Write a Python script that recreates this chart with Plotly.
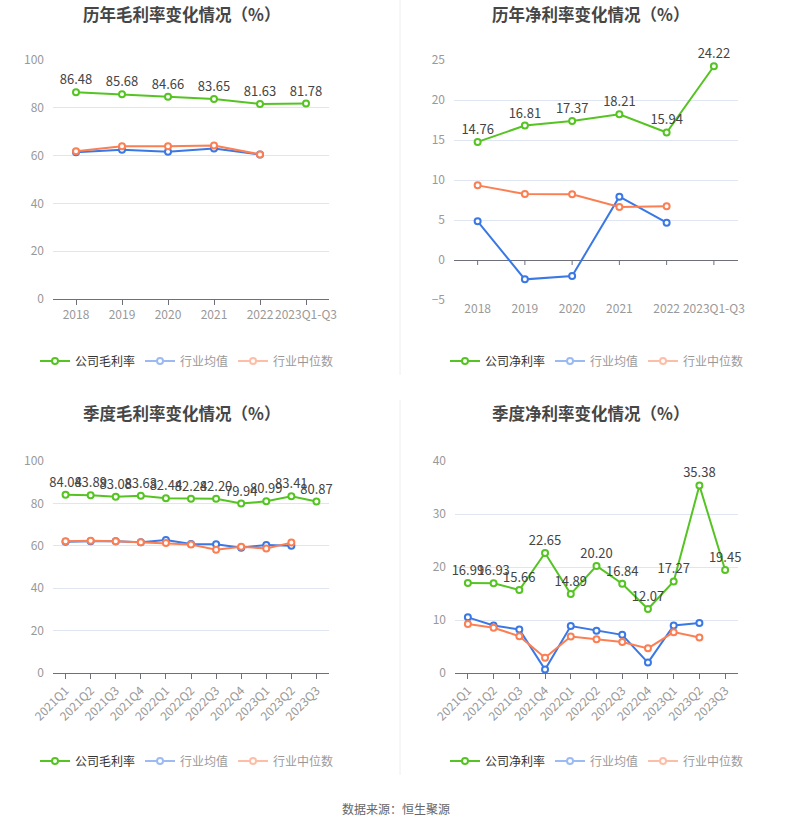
import plotly.graph_objects as go

W, H = 793, 829

years = ['2018', '2019', '2020', '2021', '2022', '2023Q1-Q3']
quarters = ['2021Q1', '2021Q2', '2021Q3', '2021Q4', '2022Q1', '2022Q2',
            '2022Q3', '2022Q4', '2023Q1', '2023Q2', '2023Q3']

gm_company = [86.48, 85.68, 84.66, 83.65, 81.63, 81.78]
gm_ind_mean = [61.4, 62.5, 61.6, 63.0, 60.5]
gm_ind_median = [61.8, 63.9, 63.9, 64.2, 60.5]

nm_company = [14.76, 16.81, 17.37, 18.21, 15.94, 24.22]
nm_ind_mean = [4.83, -2.42, -2.0, 7.92, 4.67]
nm_ind_median = [9.33, 8.25, 8.21, 6.63, 6.71]

qgm_company = [84.04, 83.89, 83.08, 83.63, 82.44, 82.24, 82.20, 79.94, 80.99, 83.41, 80.87]
qgm_ind_mean = [61.9, 62.2, 62.1, 61.7, 62.7, 60.8, 60.7, 59.1, 60.4, 60.0]
qgm_ind_median = [62.1, 62.4, 62.1, 61.7, 61.3, 60.6, 58.1, 59.6, 58.7, 61.5]

qnm_company = [16.99, 16.93, 15.66, 22.65, 14.89, 20.20, 16.84, 12.07, 17.27, 35.38, 19.45]
qnm_ind_mean = [10.5, 8.98, 8.2, 0.64, 8.85, 7.96, 7.2, 1.97, 8.98, 9.43]
qnm_ind_median = [9.24, 8.54, 6.94, 2.87, 6.88, 6.37, 5.86, 4.65, 7.71, 6.69]

titles = ['历年毛利率变化情况（%）', '历年净利率变化情况（%）',
          '季度毛利率变化情况（%）', '季度净利率变化情况（%）']
company_names = ['公司毛利率', '公司净利率', '公司毛利率', '公司净利率']
mean_name = '行业均值'
median_name = '行业中位数'
source_text = '数据来源：恒生聚源'

GREEN = '#55c423'
BLUE = '#3a78e6'
ORANGE = '#fb7f52'
FONT = 'Noto Sans CJK SC'

fig = go.Figure()

panels = [
    dict(x=years, c=gm_company, m=gm_ind_mean, d=gm_ind_median, xa='x', ya='y', lg='legend',
         xdom=(53, 329), ydom=(60, 299), yr=(0, 100), dt=20, ang=0),
    dict(x=years, c=nm_company, m=nm_ind_mean, d=nm_ind_median, xa='x2', ya='y2', lg='legend2',
         xdom=(454, 737.5), ydom=(60, 300), yr=(-5, 25), dt=5, ang=0),
    dict(x=quarters, c=qgm_company, m=qgm_ind_mean, d=qgm_ind_median, xa='x3', ya='y3', lg='legend3',
         xdom=(53, 329), ydom=(461, 673), yr=(0, 100), dt=20, ang=-45),
    dict(x=quarters, c=qnm_company, m=qnm_ind_mean, d=qnm_ind_median, xa='x4', ya='y4', lg='legend4',
         xdom=(455, 738), ydom=(461, 673), yr=(0, 40), dt=10, ang=-45),
]

def mk(color):
    return dict(symbol='circle', size=6, color='white', line=dict(color=color, width=2))

for i, p in enumerate(panels):
    xs = p['x']
    n_ind = len(p['m'])
    fig.add_trace(go.Scatter(x=xs[:n_ind], y=p['m'], mode='lines+markers', xaxis=p['xa'], yaxis=p['ya'],
                             line=dict(color=BLUE, width=2), marker=mk(BLUE), showlegend=False,
                             name=mean_name, cliponaxis=False))
    fig.add_trace(go.Scatter(x=xs[:n_ind], y=p['d'], mode='lines+markers', xaxis=p['xa'], yaxis=p['ya'],
                             line=dict(color=ORANGE, width=2), marker=mk(ORANGE), showlegend=False,
                             name=median_name, cliponaxis=False))
    fig.add_trace(go.Scatter(x=xs, y=p['c'], mode='lines+markers+text', xaxis=p['xa'], yaxis=p['ya'],
                             line=dict(color=GREEN, width=2), marker=mk(GREEN),
                             text=[f'{v:.2f}' for v in p['c']], textposition='top center',
                             textfont=dict(size=13, color='#444', family=FONT),
                             name=company_names[i], legend=p['lg'], cliponaxis=False))
    fig.add_trace(go.Scatter(x=xs[:n_ind], y=p['m'], mode='lines+markers', xaxis=p['xa'], yaxis=p['ya'],
                             line=dict(color=BLUE, width=2), marker=mk(BLUE), visible='legendonly',
                             name=mean_name, legend=p['lg']))
    fig.add_trace(go.Scatter(x=xs[:n_ind], y=p['d'], mode='lines+markers', xaxis=p['xa'], yaxis=p['ya'],
                             line=dict(color=ORANGE, width=2), marker=mk(ORANGE), visible='legendonly',
                             name=median_name, legend=p['lg']))

    sfx = '' if i == 0 else str(i + 1)
    x0, x1 = p['xdom']
    yt, yb = p['ydom']
    show_bottom_line = p['yr'][0] == 0
    fig.layout['xaxis' + sfx] = dict(
        domain=[x0 / W, x1 / W], anchor='y' + sfx, type='category',
        categoryorder='array', categoryarray=xs, range=[-0.5, len(xs) - 0.5],
        showgrid=False, zeroline=False, automargin=False,
        showline=show_bottom_line, linecolor='#6e7079', linewidth=1,
        ticks='outside' if show_bottom_line else '', ticklen=5, tickcolor='#6e7079',
        tickangle=p['ang'], tickfont=dict(size=12, color='#999', family=FONT), fixedrange=True)
    fig.layout['yaxis' + sfx] = dict(
        domain=[1 - yb / H, 1 - yt / H], anchor='x' + sfx, range=list(p['yr']), dtick=p['dt'],
        showgrid=True, gridcolor='#e0e6f1', gridwidth=1, automargin=False,
        zeroline=not show_bottom_line, zerolinecolor='#6e7079', zerolinewidth=1,
        showline=False, ticks='', ticklabelstandoff=8,
        tickfont=dict(size=12, color='#999', family=FONT), fixedrange=True)
    if not show_bottom_line:
        for k in range(len(xs)):
            fig.add_shape(type='line', xref=p['xa'], yref=p['ya'], x0=k, x1=k, y0=0,
                          y1=-5 / ((yb - yt) / (p['yr'][1] - p['yr'][0])),
                          line=dict(color='#6e7079', width=1))

leg_common = dict(orientation='h', xanchor='center', yanchor='middle',
                  font=dict(size=12, color='#333', family=FONT), itemwidth=30,
                  bgcolor='rgba(0,0,0,0)', itemclick=False, itemdoubleclick=False,
                  tracegroupgap=0)
fig.update_layout(
    legend=dict(x=187 / W, y=1 - 361 / H, **leg_common),
    legend2=dict(x=597 / W, y=1 - 361 / H, **leg_common),
    legend3=dict(x=187 / W, y=1 - 761 / H, **leg_common),
    legend4=dict(x=597 / W, y=1 - 761 / H, **leg_common),
)

title_pos = [(181, 14), (590, 14), (181, 413), (590, 413)]
for t, (tx, ty) in zip(titles, title_pos):
    fig.add_annotation(text=f'<b>{t}</b>', x=tx / W, y=1 - ty / H, xref='paper', yref='paper',
                       xanchor='center', yanchor='middle', showarrow=False,
                       font=dict(size=16.5, color='#464646', family=FONT))

fig.add_annotation(text=source_text, x=396 / W, y=1 - 808 / H, xref='paper', yref='paper',
                   xanchor='center', yanchor='middle', showarrow=False,
                   font=dict(size=12, color='#666', family=FONT))

fig.add_shape(type='line', xref='paper', yref='paper', x0=400 / W, x1=400 / W, y0=1 - 375 / H, y1=1,
              line=dict(color='#eeeeee', width=1))
fig.add_shape(type='line', xref='paper', yref='paper', x0=400 / W, x1=400 / W, y0=1 - 775 / H,
              y1=1 - 400 / H, line=dict(color='#eeeeee', width=1))

fig.update_layout(width=W, height=H, margin=dict(l=0, r=0, t=0, b=0, autoexpand=False),
                  paper_bgcolor='white', plot_bgcolor='white',
                  font=dict(family=FONT), hovermode=False)

fig.write_html('out.html', config={'displayModeBar': False},
               post_script="document.body.style.margin='0';document.body.style.overflow='hidden';")
